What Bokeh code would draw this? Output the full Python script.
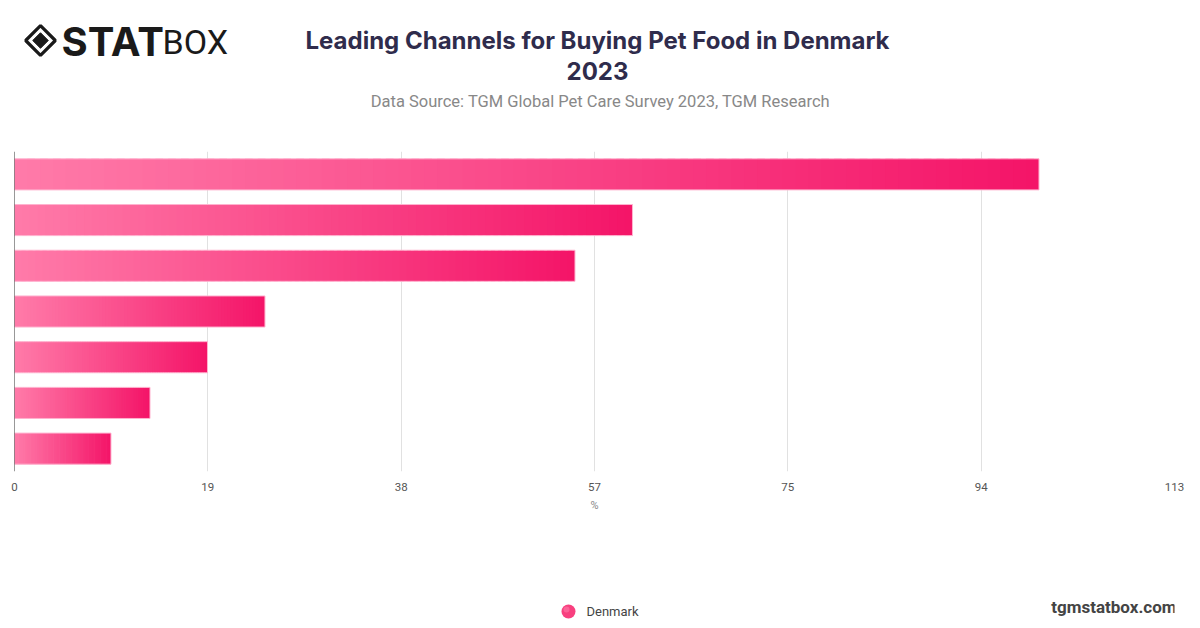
from bokeh.plotting import figure
from bokeh.models import (Range1d, FactorRange, FixedTicker, CustomJSTickFormatter,
                          Span, ColumnDataSource, Label)
from bokeh.layouts import column
from bokeh.core.properties import value
from bokeh.embed import file_html
from bokeh.resources import INLINE

# ---------------- data ----------------
ranks = ["1", "2", "3", "4", "5", "6", "7"]
shares = [99.8, 60.2, 54.6, 24.4, 18.8, 13.2, 9.4]
x_max = 113
tick_values = [x_max * k / 6 for k in range(7)]
tick_labels = ["0", "19", "38", "57", "75", "94", "113"]
series_name = "Denmark"
title_line1 = "Leading Channels for Buying Pet Food in Denmark"
title_line2 = "2023"
subtitle = "Data Source: TGM Global Pet Care Survey 2023, TGM Research"
axis_title = "%"
watermark = "tgmstatbox.com"

W = 1200
FL, FR = 14, 1174          # frame edges (page px)
HH, CH, FH = 151, 389, 88  # header / chart / footer heights
C0 = (255, 123, 169)
C1 = (244, 20, 104)


def mix(t):
    r = int(round(C0[0] + (C1[0] - C0[0]) * t))
    g = int(round(C0[1] + (C1[1] - C0[1]) * t))
    b = int(round(C0[2] + (C1[2] - C0[2]) * t))
    return "#%02x%02x%02x" % (r, g, b)


def bare(fig):
    fig.axis.visible = False
    fig.grid.visible = False
    return fig


def label(fig, x, y, text, font, size, color, style="normal", align="left"):
    fig.add_layout(Label(x=x, y=y, text=text, text_font=font, text_font_size=size,
                         text_font_style=style, text_color=color, text_align=align,
                         text_baseline="middle"))


# ---------------- header ----------------
header = bare(figure(width=W, height=HH, x_range=Range1d(FL, FR), y_range=Range1d(HH, 0),
                     output_backend="svg", toolbar_location=None,
                     min_border_left=FL, min_border_right=W - FR,
                     min_border_top=0, min_border_bottom=0, outline_line_color=None))
# logo icon
header.scatter([40], [40], marker="square", size=21, angle=0.785398,
               fill_color=None, line_color="#1a1a1a", line_width=3.2)
header.scatter([40], [40], marker="square", size=11, angle=0.785398,
               fill_color="#1a1a1a", line_color="#1a1a1a")
label(header, 61, 41, "STAT", "Inter", "40px", "#1a1a1a", style="bold")
label(header, 162, 41, "BOX", "Roboto", "34px", "#1a1a1a")
label(header, 597, 40, title_line1, "Inter", "24px", "#2f2c4c", style="bold", align="center")
label(header, 597, 70, title_line2, "Inter", "24px", "#2f2c4c", style="bold", align="center")
label(header, 600, 101, subtitle, "Roboto", "16.5px", "#888888", align="center")

# ---------------- chart ----------------
p = figure(width=W, height=CH, x_range=Range1d(0, x_max),
           y_range=FactorRange(factors=list(reversed(ranks))),
           output_backend="svg", toolbar_location=None, y_axis_location=None,
           min_border_left=FL, min_border_right=W - FR, min_border_top=0, min_border_bottom=69,
           outline_line_color=None)

N = 80
ys, lefts, rights, colors = [], [], [], []
for r, v in zip(ranks, shares):
    for i in range(N):
        ys.append(r)
        lefts.append(v * i / N)
        rights.append(v * min(i + 1.6, N) / N)
        colors.append(mix((i + 0.5) / N))
p.hbar(y="y", left="l", right="r", height=0.68, fill_color="c", line_color=None,
       source=ColumnDataSource(dict(y=ys, l=lefts, r=rights, c=colors)))
p.hbar(y=ranks, left=0, right=shares, height=0.68, fill_color=None,
       line_color="#ffb3cf", line_width=1)

ticker = FixedTicker(ticks=tick_values)
p.xaxis.ticker = ticker
p.xaxis.formatter = CustomJSTickFormatter(args=dict(tvals=tick_values, tlabels=tick_labels), code="""
let best = 0;
for (let i = 0; i < tvals.length; i++) {
  if (Math.abs(tvals[i] - tick) < Math.abs(tvals[best] - tick)) best = i;
}
return tlabels[best];
""")
p.xaxis.axis_line_color = None
p.xaxis.major_tick_line_color = None
p.xaxis.minor_tick_line_color = None
p.xaxis.major_label_standoff = 5
p.xaxis.major_label_text_font = "Roboto"
p.xaxis.major_label_text_font_size = "11.5px"
p.xaxis.major_label_text_color = "#555555"
p.xaxis.axis_label = axis_title
p.xaxis.axis_label_text_font = "Roboto"
p.xaxis.axis_label_text_font_style = "normal"
p.xaxis.axis_label_text_font_size = "11px"
p.xaxis.axis_label_text_color = "#888888"
p.xaxis.axis_label_standoff = 5
p.xgrid.ticker = ticker
p.xgrid.grid_line_color = "#e1e1e1"
p.ygrid.grid_line_color = None
p.add_layout(Span(location=0, dimension="height", line_color="#333333", line_width=1))

# ---------------- footer ----------------
footer = bare(figure(width=W, height=FH, x_range=Range1d(FL, FR),
                     y_range=Range1d(HH + CH + FH, HH + CH),
                     output_backend="svg", toolbar_location=None,
                     min_border_left=FL, min_border_right=W - FR,
                     min_border_top=0, min_border_bottom=0, outline_line_color=None))
footer.scatter([568], [611], marker="circle", size=14, fill_color="#f8407f", line_color=None)
footer.scatter([566], [609], marker="circle", size=6, fill_color="#ff7aa8", line_color=None,
               fill_alpha=0.6)
label(footer, 586, 611, series_name, "Roboto", "13px", "#444444")
label(footer, 1176, 606, watermark, "Roboto", "17px", "#444444", style="bold", align="right")

layout = column(header, p, footer, spacing=0)
open("out.html", "w").write(file_html(layout, INLINE))
